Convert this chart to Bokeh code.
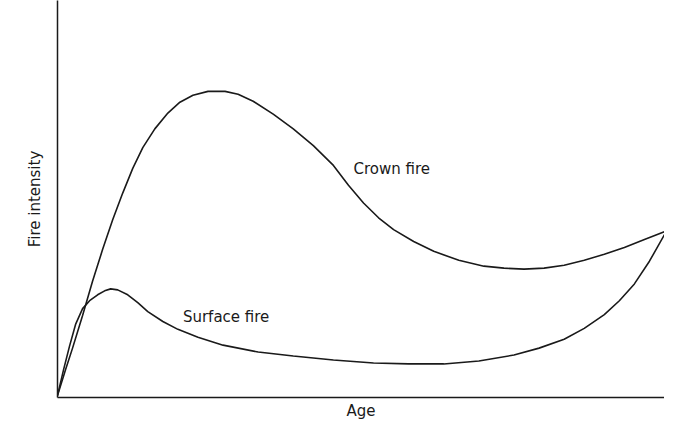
from bokeh.plotting import figure
from bokeh.models import Label
from bokeh.embed import file_html
from bokeh.resources import INLINE

# curves (age, intensity), arbitrary units
crown_age = [0, 8, 15, 25, 35, 45, 55, 65, 75, 85, 97, 110, 122, 135, 150, 167, 180, 195, 215, 235,
             255, 275, 290, 305, 320, 335, 355, 375, 400, 425, 445, 465, 485, 505, 525, 545, 565, 585, 605]
crown_int = [2, 28, 50, 83, 118, 150, 180, 207, 232, 253, 272, 288, 299, 306, 310, 310, 307, 300, 287, 272,
             255, 235, 215, 197, 182, 170, 158, 148, 139, 133, 131, 130, 131, 134, 139, 145, 152, 160, 168]
surf_age = [0, 6, 12, 18, 25, 32, 40, 47, 53, 60, 70, 80, 90, 105, 120, 140, 165, 200, 235, 275,
            315, 350, 385, 420, 455, 480, 505, 525, 545, 560, 575, 590, 605]
surf_int = [2, 28, 52, 74, 90, 98, 104, 108, 110, 109, 104, 96, 87, 77, 69, 61, 53, 46, 42, 38,
            35, 34, 34, 37, 43, 50, 59, 70, 84, 98, 115, 138, 165]

FONT = "DejaVu Sans"
INK = "#1a1a1a"

p = figure(width=664, height=422, x_range=(0, 605), y_range=(0, 402),
           output_backend="svg", toolbar_location=None,
           min_border_left=57, min_border_right=0, min_border_top=0, min_border_bottom=10)
p.grid.visible = False
p.outline_line_color = None
p.background_fill_color = "white"
p.border_fill_color = "white"

for ax in (p.xaxis, p.yaxis):
    ax.ticker = []
    ax.major_tick_in = 0
    ax.major_tick_out = 0
    ax.major_label_standoff = 0
    ax.axis_line_color = INK
    ax.axis_line_width = 1.5
    ax.axis_label_text_font = FONT
    ax.axis_label_text_font_style = "normal"
    ax.axis_label_text_font_size = "15px"
    ax.axis_label_text_color = INK
p.yaxis.axis_label = "Fire intensity"
p.yaxis.axis_label_standoff = 14
p.xaxis.axis_label = "Age"
p.xaxis.axis_label_standoff = 4

p.line(crown_age, crown_int, line_color=INK, line_width=1.6)
p.line(surf_age, surf_int, line_color=INK, line_width=1.6)

p.add_layout(Label(x=295, y=222, text="Crown fire", text_font=FONT,
                   text_font_size="15px", text_color=INK))
p.add_layout(Label(x=125, y=72, text="Surface fire", text_font=FONT,
                   text_font_size="15px", text_color=INK))

open("out.html", "w").write(file_html(p, INLINE))
